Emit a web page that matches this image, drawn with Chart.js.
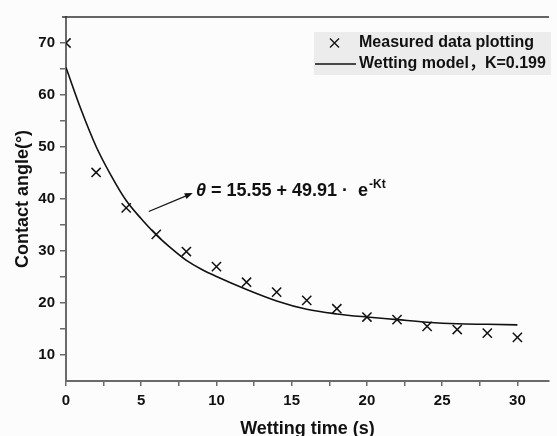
<!DOCTYPE html>
<html>
<head>
<meta charset="utf-8">
<script src="https://cdn.jsdelivr.net/npm/chart.js@4.4.1/dist/chart.umd.min.js"></script>
<style>
  html, body { margin: 0; padding: 0; background: #fcfcfc; }
  #wrap { width: 557px; height: 436px; }
</style>
</head>
<body>
<div id="wrap"><canvas id="myChart" width="557" height="436"></canvas></div>
<script>
// measured points
const timeS = [0, 2, 4, 6, 8, 10, 12, 14, 16, 18, 20, 22, 24, 26, 28, 30];
const measuredAngle = [70.0, 45.1, 38.3, 33.2, 29.9, 27.0, 24.0, 22.1, 20.5, 18.9, 17.3, 16.8, 15.5, 14.9, 14.2, 13.4];

// fitted curve
const modelTime = [0, 1, 2, 3, 4, 5, 6, 7, 8, 9, 10, 12, 14, 16, 18, 20, 22, 24, 26, 28, 30];
const modelAngle = [65.3, 57.2, 50.1, 44.5, 39.7, 36.2, 33.1, 30.5, 28.2, 26.5, 25.1, 22.6, 20.4, 18.8, 17.9, 17.3, 16.8, 16.3, 16.0, 15.9, 15.8];

// axis ticks (majors get labels)
const xTicks = [0, 2.5, 5, 7.5, 10, 12.5, 15, 17.5, 20, 22.5, 25, 27.5, 30];
const yTicks = [10, 15, 20, 25, 30, 35, 40, 45, 50, 55, 60, 65, 70];

const legendLabels = ['Measured data plotting', 'Wetting model，K=0.199'];
const equationText = ' = 15.55 + 49.91 ·  e';
const equationSup = '-Kt';

const FONT = 'Arial, "Liberation Sans", "Noto Sans CJK SC", sans-serif';
const AXIS_COLOR = '#6a6a6a';

// draws the top frame line, the equation with its arrow and the legend box
const overlay = {
    id: 'overlay',
    afterDraw(chart) {
        const ctx = chart.ctx;
        const area = chart.chartArea;
        const xs = chart.scales.x;
        const ys = chart.scales.y;
        ctx.save();

        // top frame line
        ctx.strokeStyle = '#333';
        ctx.lineWidth = 1.5;
        ctx.beginPath();
        ctx.moveTo(area.left - 4, area.top);
        ctx.lineTo(area.right, area.top);
        ctx.stroke();

        // arrow pointing at the equation
        const x0 = xs.getPixelForValue(5.5), y0 = ys.getPixelForValue(37.6);
        const x1 = xs.getPixelForValue(8.3), y1 = ys.getPixelForValue(41.0);
        ctx.strokeStyle = '#111';
        ctx.fillStyle = '#111';
        ctx.lineWidth = 1.3;
        ctx.beginPath();
        ctx.moveTo(x0, y0);
        ctx.lineTo(x1, y1);
        ctx.stroke();
        const ang = Math.atan2(y1 - y0, x1 - x0);
        ctx.beginPath();
        ctx.moveTo(x1 + 2 * Math.cos(ang), y1 + 2 * Math.sin(ang));
        ctx.lineTo(x1 - 6 * Math.cos(ang) + 3 * Math.sin(ang), y1 - 6 * Math.sin(ang) - 3 * Math.cos(ang));
        ctx.lineTo(x1 - 6 * Math.cos(ang) - 3 * Math.sin(ang), y1 - 6 * Math.sin(ang) + 3 * Math.cos(ang));
        ctx.closePath();
        ctx.fill();

        // equation text
        let tx = x1 + 5;
        const ty = y1 + 2;
        ctx.textBaseline = 'alphabetic';
        ctx.textAlign = 'left';
        ctx.font = 'italic bold 18px ' + FONT;
        ctx.fillText('θ', tx, ty);
        tx += ctx.measureText('θ').width;
        ctx.font = 'bold 18px ' + FONT;
        ctx.fillText(equationText, tx, ty);
        tx += ctx.measureText(equationText).width + 1;
        ctx.font = 'bold 12px ' + FONT;
        ctx.fillText(equationSup, tx, ty - 8);

        // legend box
        const bx = 314, by = 32, bw = 237, bh = 43;
        ctx.fillStyle = '#ececec';
        ctx.fillRect(bx, by, bw, bh);
        ctx.fillStyle = '#111';
        ctx.font = 'bold 16px ' + FONT;
        ctx.textBaseline = 'middle';
        ctx.fillText(legendLabels[0], 359, 43);
        ctx.fillText(legendLabels[1], 359, 64);
        // cross marker
        ctx.strokeStyle = '#111';
        ctx.lineWidth = 1.3;
        ctx.beginPath();
        ctx.moveTo(330, 38.5); ctx.lineTo(339, 47.5);
        ctx.moveTo(339, 38.5); ctx.lineTo(330, 47.5);
        ctx.stroke();
        // line marker
        ctx.lineWidth = 1.6;
        ctx.beginPath();
        ctx.moveTo(315, 64); ctx.lineTo(356, 64);
        ctx.stroke();

        ctx.restore();
    }
};

const ctx1 = document.querySelector('#myChart').getContext('2d');

const chart1 = new Chart(ctx1, {
    type: 'scatter',
    data: {
        datasets: [
            {
                label: legendLabels[0],
                data: timeS.map((t, i) => ({ x: t, y: measuredAngle[i] })),
                pointStyle: 'crossRot',
                pointRadius: 6.5,
                pointBorderWidth: 1.5,
                borderColor: '#111',
                backgroundColor: '#111',
                showLine: false
            },
            {
                label: legendLabels[1],
                data: modelTime.map((t, i) => ({ x: t, y: modelAngle[i] })),
                showLine: true,
                pointRadius: 0,
                borderColor: '#111',
                borderWidth: 1.6,
                cubicInterpolationMode: 'monotone'
            }
        ]
    },
    options: {
        responsive: false,
        animation: false,
        layout: { padding: { top: 17, left: 0, right: 0, bottom: 0 } },
        plugins: {
            legend: { display: false },
            tooltip: { enabled: false }
        },
        scales: {
            x: {
                type: 'linear',
                min: 0,
                max: 32.1,
                afterFit: s => { s.height = 55; },
                afterBuildTicks: s => { s.ticks = xTicks.map(v => ({ value: v })); },
                border: { color: AXIS_COLOR, width: 2 },
                grid: { drawOnChartArea: false, drawTicks: true, tickLength: 5, color: AXIS_COLOR, lineWidth: 1.5 },
                ticks: {
                    color: '#111',
                    padding: 6,
                    maxRotation: 0,
                    autoSkip: false,
                    font: { family: FONT, size: 15, weight: 'bold' },
                    callback: v => (v % 5 === 0 ? v : '')
                },
                title: {
                    display: true,
                    text: 'Wetting time (s)',
                    color: '#111',
                    font: { family: FONT, size: 18, weight: 'bold' },
                    padding: { top: 0, bottom: -4 }
                }
            },
            y: {
                min: 5,
                max: 75,
                afterFit: s => { s.width = 66; },
                afterBuildTicks: s => { s.ticks = yTicks.map(v => ({ value: v })); },
                border: { color: AXIS_COLOR, width: 2 },
                grid: { drawOnChartArea: false, drawTicks: true, tickLength: 6, color: AXIS_COLOR, lineWidth: 1.5 },
                ticks: {
                    color: '#111',
                    padding: 5,
                    autoSkip: false,
                    font: { family: FONT, size: 15, weight: 'bold' },
                    callback: v => (v % 10 === 0 ? v : '')
                },
                title: {
                    display: true,
                    text: 'Contact angle(°)',
                    color: '#111',
                    font: { family: FONT, size: 18, weight: 'bold' },
                    padding: { top: 12, bottom: 0 }
                }
            }
        }
    },
    plugins: [overlay]
});
</script>
</body>
</html>
